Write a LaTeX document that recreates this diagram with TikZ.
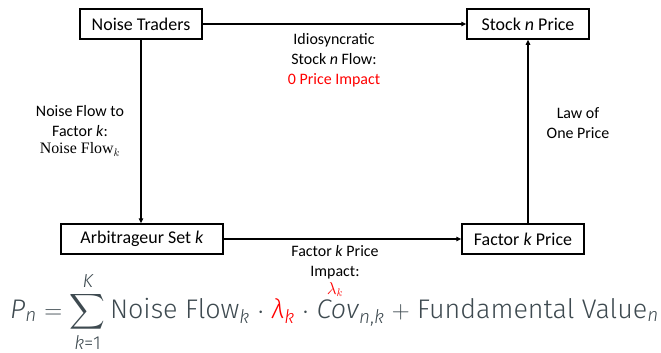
\documentclass[tikz,border=0pt]{standalone}
\usepackage{fontspec}
\usepackage{amsmath}
\setmainfont{Carlito}
\newfontfamily\fira[UprightFont={* Light},ItalicFont={* Light Italic}]{Fira Sans}
\newfontfamily\cambr{Liberation Serif}
\usetikzlibrary{arrows.meta}
\definecolor{slate}{HTML}{3E4A50}
\definecolor{pred}{HTML}{FF0000}
\begin{document}
\begin{tikzpicture}[x=1bp,y=-1bp,
  box/.style={draw,line width=1.5bp,minimum height=30bp,inner sep=2bp,font=\fontsize{18}{20}\selectfont},
  arr/.style={line width=1.3bp,-{Triangle[length=5bp,width=4.5bp]}},
  lab/.style={align=center,font=\fontsize{16}{20}\selectfont,inner sep=0pt}]
\useasboundingbox (0,0) rectangle (661,352);
\node[box,minimum width=122bp] (nt) at (141,24) {Noise Traders};
\node[box,minimum width=122bp] (sp) at (528,24) {Stock \textit{n} Price};
\node[box,minimum width=162bp] (ar) at (142,239) {Arbitrageur Set \textit{k}};
\node[box,minimum width=122bp] (fp) at (523,239) {Factor \textit{k} Price};
\draw[arr] (nt.east) -- (sp.west);
\draw[arr] (nt.south) -- (nt.south |- ar.north);
\draw[arr] (ar.east) -- (fp.west);
\coordinate (fpt) at (sp.south |- fp.north);
\draw[arr] (fpt) -- (sp.south);
\node[lab] (l1) at (334,60) {Idiosyncratic\\Stock \textit{n} Flow:\\\textcolor{pred}{0 Price Impact}};
\node[lab] (l2) at (80,131) {Noise Flow to\\Factor \textit{k}:\\[-3bp]{\cambr\fontsize{16}{16}\selectfont Noise Flow$_k$}};
\node[lab] (l3) at (578,123) {Law of\\One Price};
\node[lab] (l4) at (335,271) {Factor \textit{k} Price\\Impact:\\[-2bp]\textcolor{pred}{$\lambda_k$}};
\node[anchor=base west,inner sep=0pt,text=slate,font=\fira\fontsize{27}{30}\selectfont] (eq) at (10,318)
  {\textit{P}\textsubscript{\textit{n}} $=$ $\displaystyle\sum\limits_{\text{\fira\itshape k\upshape =1}}^{\text{\fira\itshape K}}$\,Noise Flow\textsubscript{\textit{k}} $\cdot$ \textcolor{pred}{\textit{λ}\textsubscript{\textit{k}}} $\cdot$ \textit{Cov}\textsubscript{\textit{n},\textit{k}} $+$ Fundamental Value\textsubscript{\textit{n}}};
\end{tikzpicture}
\end{document}
